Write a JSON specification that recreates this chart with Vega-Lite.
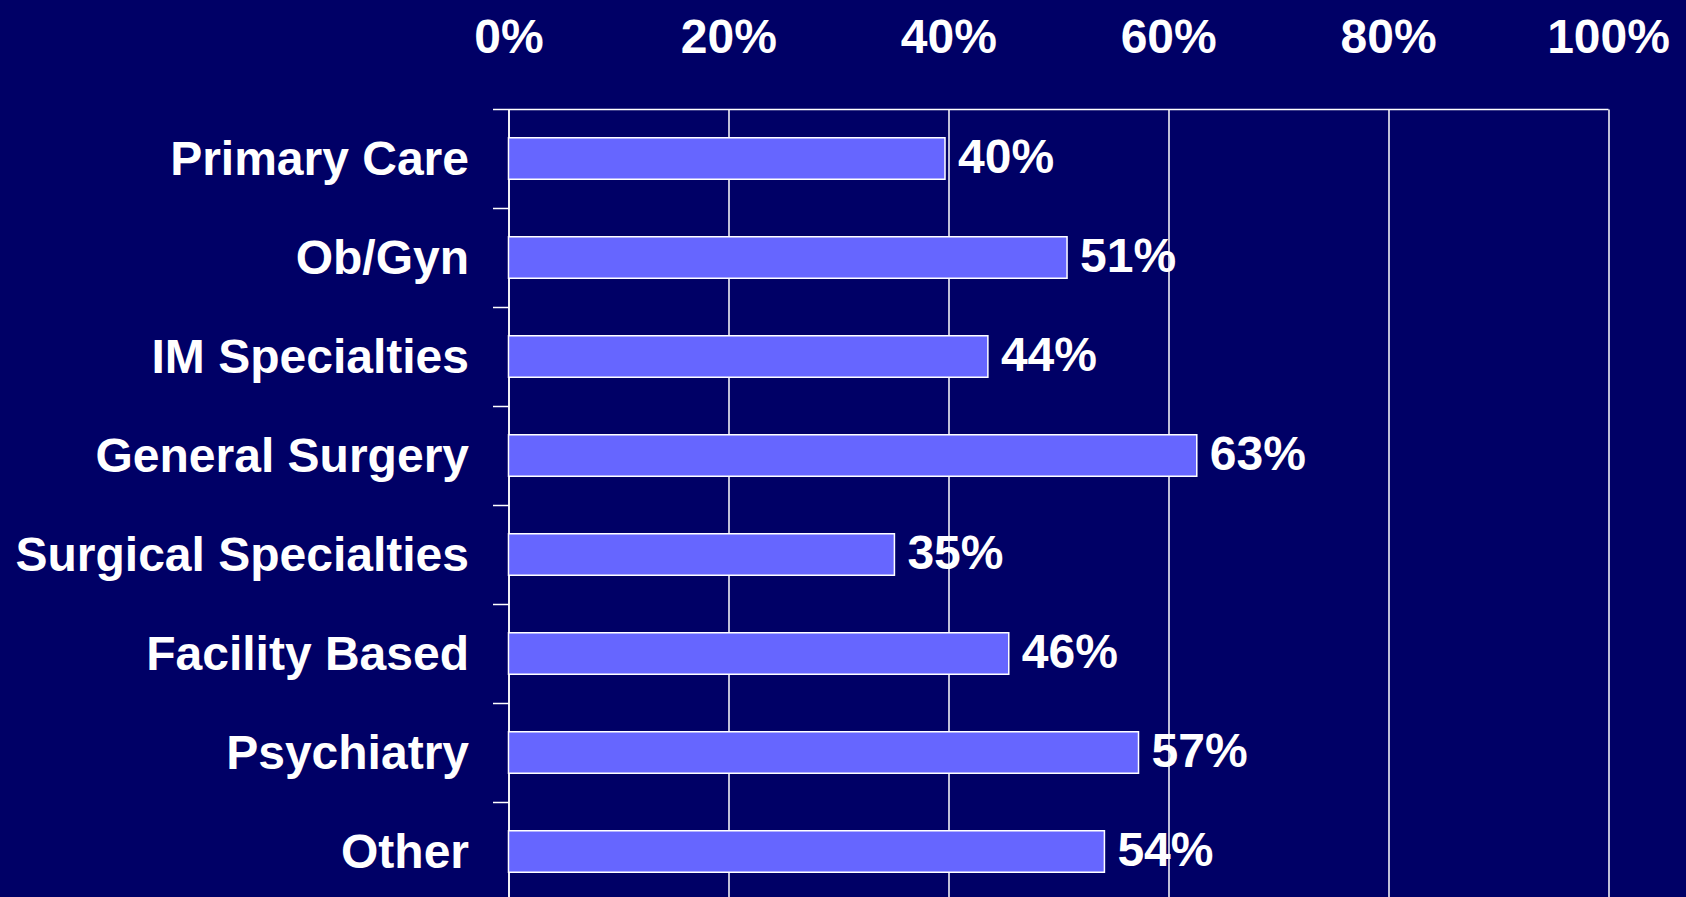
{
  "$schema": "https://vega.github.io/schema/vega-lite/v6.json",
  "autosize": "none",
  "width": 1099.5,
  "height": 792,
  "padding": {"left": 508.5, "top": 109, "right": 78, "bottom": 0},
  "background": "#000066",
  "config": {
    "view": {"stroke": null},
    "font": "Liberation Sans"
  },
  "data": {
    "values": [
      {"category": "Primary Care", "value": 0.397, "label": "40%"},
      {"category": "Ob/Gyn", "value": 0.508, "label": "51%"},
      {"category": "IM Specialties", "value": 0.436, "label": "44%"},
      {"category": "General Surgery", "value": 0.626, "label": "63%"},
      {"category": "Surgical Specialties", "value": 0.351, "label": "35%"},
      {"category": "Facility Based", "value": 0.455, "label": "46%"},
      {"category": "Psychiatry", "value": 0.573, "label": "57%"},
      {"category": "Other", "value": 0.542, "label": "54%"}
    ]
  },
  "encoding": {
    "y": {
      "field": "category",
      "type": "nominal",
      "sort": null,
      "scale": {"paddingInner": 0, "paddingOuter": 0},
      "axis": {
        "title": null,
        "tickBand": "extent",
        "tickSize": 16,
        "tickColor": "white",
        "tickWidth": 1.5,
        "domainColor": "white",
        "domainWidth": 1.5,
        "labelColor": "white",
        "labelFont": "Liberation Sans",
        "labelFontSize": 48,
        "labelFontWeight": "bold",
        "labelPadding": 24,
        "labelOffset": 2,
        "labelLimit": 600,
        "grid": false
      }
    },
    "x": {
      "field": "value",
      "type": "quantitative",
      "scale": {"domain": [0, 1], "nice": false},
      "axis": {
        "orient": "top",
        "title": null,
        "format": ".0%",
        "values": [0, 0.2, 0.4, 0.6, 0.8, 1],
        "ticks": false,
        "domainColor": "white",
        "domainWidth": 1.5,
        "grid": true,
        "gridColor": "white",
        "gridWidth": 1.5,
        "gridOpacity": 1,
        "labelColor": "white",
        "labelFont": "Liberation Sans",
        "labelFontSize": 48,
        "labelFontWeight": "bold",
        "labelBaseline": "alphabetic",
        "labelPadding": 57,
        "labelFlush": false,
        "labelOverlap": false
      }
    }
  },
  "layer": [
    {
      "mark": {"type": "bar", "color": "#6666FF", "stroke": "white", "strokeWidth": 1.5, "height": {"band": 0.42}}
    },
    {
      "mark": {"type": "text", "align": "left", "baseline": "middle", "dx": 13, "color": "white", "font": "Liberation Sans", "fontSize": 48, "fontWeight": "bold"},
      "encoding": {"text": {"field": "label"}}
    }
  ]
}
